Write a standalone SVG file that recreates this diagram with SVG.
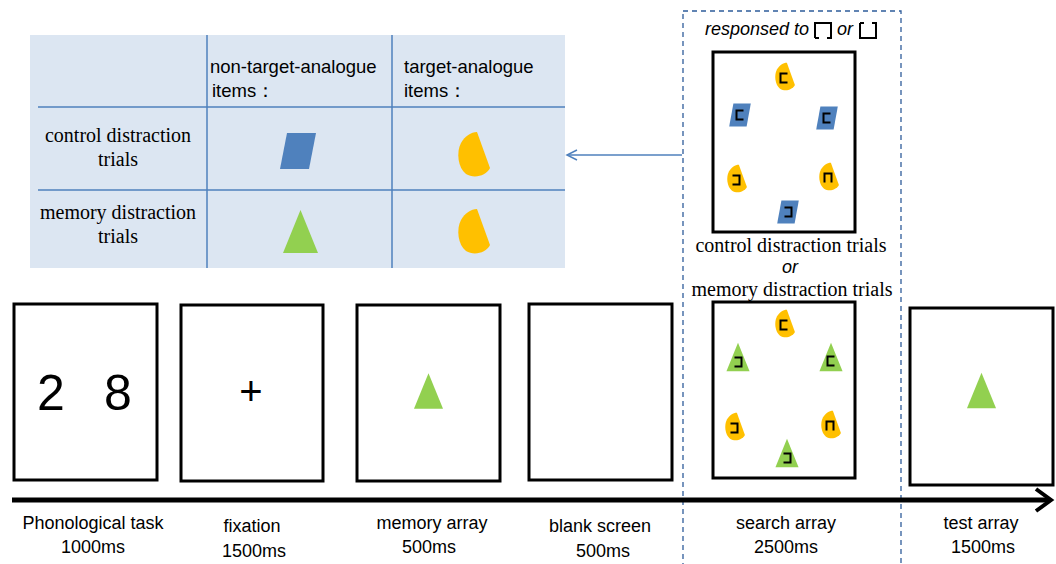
<svg xmlns="http://www.w3.org/2000/svg" xmlns:xlink="http://www.w3.org/1999/xlink" width="1056" height="564" viewBox="0 0 1056 564">
<style>
.frame{fill:#fff;stroke:#000;stroke-width:3}
.sans{font-family:"Liberation Sans",Arial,sans-serif;fill:#000}
.serif{font-family:"Liberation Serif","Times New Roman",serif;fill:#000;font-size:20px}
.lbl{font-family:"Liberation Sans",Arial,sans-serif;font-size:18px;fill:#000;text-anchor:middle}
.grid{stroke:#4F81BD;stroke-width:1.5;fill:none}
.mk{fill:none;stroke:#000;stroke-width:2}
</style>
<defs>
<path id="moon" d="M3,-23 L16,13 C12,21 0,24 -8,19 C-16,13 -18,-3 -13,-12 C-9,-19 -3,-23 3,-23 Z" fill="#FFC000"/>
<path id="para" d="M-11,-18 L18,-18 L11,18 L-18,18 Z" fill="#4F81BD"/>
<path id="tri" d="M0,-21.5 L17.5,21.5 L-17.5,21.5 Z" fill="#92D050"/>
<path id="mR" d="M3.5,-4.5 H-3.5 V4.5 H3.5" class="mk"/>
<path id="mL" d="M-3.5,-4.5 H3.5 V4.5 H-3.5" class="mk"/>
<path id="mB" d="M-3.5,4.5 V-4.5 H3.5 V4.5" class="mk"/>
<marker id="openArrow" markerWidth="14" markerHeight="14" refX="11" refY="6" orient="auto" markerUnits="userSpaceOnUse">
<path d="M1,1 L11,6 L1,11" fill="none" stroke="#4F81BD" stroke-width="1.5"/>
</marker>
</defs>

<g id="table">
<rect x="30" y="35" width="535" height="233" fill="#DCE6F2"/>
<line class="grid" x1="207" y1="35" x2="207" y2="268"/>
<line class="grid" x1="392" y1="35" x2="392" y2="268"/>
<line class="grid" x1="38" y1="107" x2="565" y2="107"/>
<line class="grid" x1="38" y1="190" x2="565" y2="190"/>
<text class="sans" x="210" y="73" font-size="18.5">non-target-analogue</text>
<text class="sans" x="212" y="97" font-size="18.5">items：</text>
<text class="sans" x="404" y="73" font-size="18.5">target-analogue</text>
<text class="sans" x="404" y="97" font-size="18.5">items：</text>
<text class="serif" x="118" y="142" text-anchor="middle">control distraction</text>
<text class="serif" x="118" y="166" text-anchor="middle">trials</text>
<text class="serif" x="118" y="219" text-anchor="middle">memory distraction</text>
<text class="serif" x="118" y="243" text-anchor="middle">trials</text>
<use href="#para" x="298" y="151"/>
<use href="#moon" x="474" y="155"/>
<use href="#tri" x="300.5" y="231.5"/>
<use href="#moon" x="474" y="232"/>
</g>

<g id="search-region">
<rect x="683" y="11" width="218" height="560" fill="none" stroke="#2E5C9A" stroke-width="1.3" stroke-dasharray="5,4"/>
<text class="sans" x="705" y="35" font-size="18" font-style="italic">responsed to</text>
<path class="mk" d="M815,38 H819 M827,38 H831 V23 H815 V38"/>
<text class="sans" x="837" y="35" font-size="18" font-style="italic">or</text>
<path class="mk" d="M860,23 H864 M872,23 H876 V38 H860 V23"/>
<text class="serif" x="791" y="252" text-anchor="middle" font-size="20.5">control distraction trials</text>
<text class="sans" x="790" y="273" font-size="18" font-style="italic" text-anchor="middle">or</text>
<text class="serif" x="792" y="296" text-anchor="middle" font-size="20.5">memory distraction trials</text>
</g>

<g id="search-control">
<rect class="frame" x="713" y="52" width="142" height="180"/>
<g transform="translate(785,77) scale(0.62)"><use href="#moon"/></g>
<g transform="translate(740,115) scale(0.6,0.64)"><use href="#para"/></g>
<g transform="translate(827,118) scale(0.6,0.64)"><use href="#para"/></g>
<g transform="translate(737,179) scale(0.62)"><use href="#moon"/></g>
<g transform="translate(829,177) scale(0.62)"><use href="#moon"/></g>
<g transform="translate(788,212) scale(0.6,0.64)"><use href="#para"/></g>
<use href="#mR" x="784" y="78"/>
<use href="#mR" x="740" y="115"/>
<use href="#mR" x="827" y="118"/>
<use href="#mL" x="736" y="180"/>
<use href="#mB" x="828" y="178"/>
<use href="#mL" x="788" y="212"/>
</g>

<g id="search-memory">
<rect class="frame" x="713" y="302" width="142" height="176"/>
<g transform="translate(785,324) scale(0.62)"><use href="#moon"/></g>
<g transform="translate(738,357) scale(0.66)"><use href="#tri"/></g>
<g transform="translate(831,357) scale(0.66)"><use href="#tri"/></g>
<g transform="translate(735,427) scale(0.62)"><use href="#moon"/></g>
<g transform="translate(831,425) scale(0.62)"><use href="#moon"/></g>
<g transform="translate(787,453) scale(0.66)"><use href="#tri"/></g>
<use href="#mR" x="784" y="325"/>
<use href="#mL" x="738" y="362"/>
<use href="#mR" x="831" y="361"/>
<use href="#mL" x="734" y="428"/>
<use href="#mB" x="830" y="426"/>
<use href="#mL" x="787" y="458"/>
</g>

<g id="phonological">
<rect class="frame" x="14" y="304" width="143" height="176"/>
<text class="sans" x="51" y="410" font-size="50" text-anchor="middle">2</text>
<text class="sans" x="118" y="410" font-size="50" text-anchor="middle">8</text>
</g>
<g id="fixation">
<rect class="frame" x="181" y="305" width="142" height="176"/>
<text class="sans" x="251" y="405" font-size="40" text-anchor="middle">+</text>
</g>
<g id="memory-array">
<rect class="frame" x="357" y="305" width="143" height="176"/>
<g transform="translate(428.5,391) scale(0.83)"><use href="#tri"/></g>
</g>
<g id="blank-screen">
<rect class="frame" x="529" y="304" width="143" height="176"/>
</g>
<g id="test-array">
<rect class="frame" x="910" y="308" width="143" height="177"/>
<g transform="translate(981.5,390.5) scale(0.83)"><use href="#tri"/></g>
</g>

<g id="connectors">
<line x1="682" y1="155" x2="567" y2="155" stroke="#4F81BD" stroke-width="1.5" marker-end="url(#openArrow)"/>
<line x1="12" y1="500" x2="1050" y2="500" stroke="#000" stroke-width="5"/>
<path d="M1036,489 L1051,500 L1036,511" fill="none" stroke="#000" stroke-width="4"/>
</g>

<g id="labels">
<text class="lbl" x="93" y="529">Phonological task</text>
<text class="lbl" x="93" y="553">1000ms</text>
<text class="lbl" x="252" y="532">fixation</text>
<text class="lbl" x="254" y="557">1500ms</text>
<text class="lbl" x="432" y="529">memory array</text>
<text class="lbl" x="429" y="553">500ms</text>
<text class="lbl" x="600" y="532">blank screen</text>
<text class="lbl" x="603" y="557">500ms</text>
<text class="lbl" x="786" y="529">search array</text>
<text class="lbl" x="786" y="553">2500ms</text>
<text class="lbl" x="981" y="529">test array</text>
<text class="lbl" x="983" y="553">1500ms</text>
</g>
</svg>
